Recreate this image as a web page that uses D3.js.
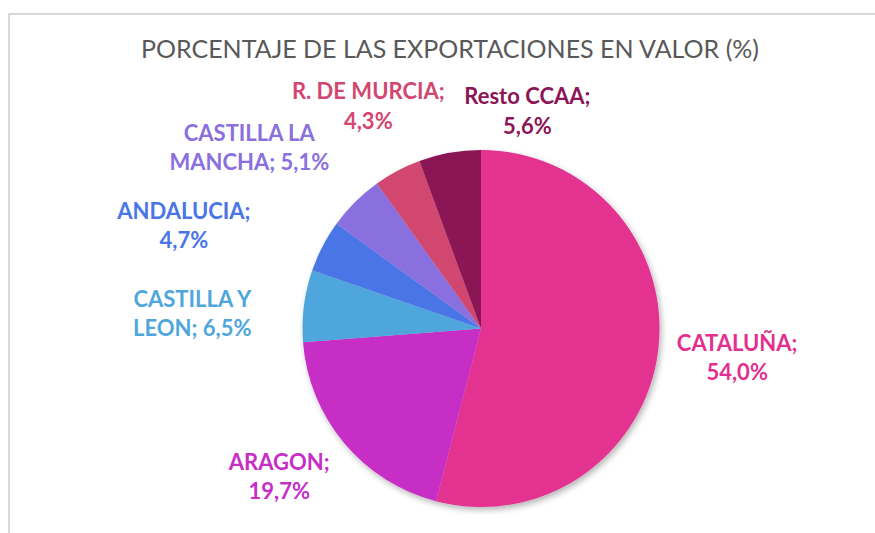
<!DOCTYPE html>
<html>
<head>
<meta charset="utf-8">
<script src="https://cdn.jsdelivr.net/npm/d3@7"></script>
<style>
  body { margin: 0; background: #fff; }
  svg text { font-family: Lato, "Open Sans", sans-serif; }
</style>
</head>
<body>
<div id="chart"></div>
<script>
// data
var regions = ['CATALUÑA', 'ARAGON', 'CASTILLA Y LEON', 'ANDALUCIA', 'CASTILLA LA MANCHA', 'R. DE MURCIA', 'Resto CCAA'];
var shares = [54.0, 19.7, 6.5, 4.7, 5.1, 4.3, 5.6];
// how each data label breaks into two lines
var labelLines = [
  ['CATALUÑA;', '54,0%'],
  ['ARAGON;', '19,7%'],
  ['CASTILLA Y', 'LEON; 6,5%'],
  ['ANDALUCIA;', '4,7%'],
  ['CASTILLA LA', 'MANCHA; 5,1%'],
  ['R. DE MURCIA;', '4,3%'],
  ['Resto CCAA;', '5,6%']
];

var colors = ['#e3308f', '#c62fc6', '#4fa6dc', '#4975e6', '#8a70de', '#d2476f', '#8b1556'];

// label placement (distance from centre, angle shift in degrees)
var labelDist = [258, 251, 289, 314, 293, 248, 221];
var labelShift = [-0.5, 3.4, -4.6, -8.6, -7.4, 0.9, 22.2];

var width = 875;
var height = 533;
var cx = 481;
var cy = 328.5;
var radius = 178.5;

var svg = d3.select('#chart').append('svg')
  .attr('width', width)
  .attr('height', height);

// chart frame (only top and left edges are visible)
svg.append('rect')
  .attr('x', 9)
  .attr('y', 14)
  .attr('width', width + 20)
  .attr('height', height + 20)
  .style('fill', 'none')
  .style('stroke', '#d9d9d9')
  .style('stroke-width', 2);

// soft shadow under the pie
var defs = svg.append('defs');
var filter = defs.append('filter')
  .attr('id', 'shadow')
  .attr('x', '-20%').attr('y', '-20%')
  .attr('width', '140%').attr('height', '140%');
filter.append('feGaussianBlur')
  .attr('in', 'SourceAlpha')
  .attr('stdDeviation', 3);
filter.append('feOffset')
  .attr('dx', 2).attr('dy', 3)
  .attr('result', 'blur');
filter.append('feComponentTransfer')
  .append('feFuncA').attr('type', 'linear').attr('slope', 0.3);
var merge = filter.append('feMerge');
merge.append('feMergeNode');
merge.append('feMergeNode').attr('in', 'SourceGraphic');

svg.append('text')
  .attr('x', 450)
  .attr('y', 58)
  .style('text-anchor', 'middle')
  .style('fill', '#595959')
  .style('font-size', '25px')
  .text('PORCENTAJE DE LAS EXPORTACIONES EN VALOR (%)');

var data = regions.map(function (r, i) {
  return { name: r, value: shares[i], lines: labelLines[i], i: i };
});

var pie = d3.pie()
  .sort(null)
  .value(function (d) { return d.value; });

var arc = d3.arc()
  .innerRadius(0)
  .outerRadius(radius);

var arcs = pie(data);

var g = svg.append('g')
  .attr('transform', 'translate(' + cx + ',' + cy + ')');

g.append('g')
  .attr('filter', 'url(#shadow)')
  .selectAll('path')
  .data(arcs)
  .enter().append('path')
  .attr('d', arc)
  .style('fill', function (d) { return colors[d.data.i]; });

// data labels
var lineHeight = 29.5;
var labels = g.selectAll('.label')
  .data(arcs)
  .enter().append('text')
  .attr('class', 'label')
  .style('text-anchor', 'middle')
  .style('font-weight', 'bold')
  .style('font-size', '22px')
  .style('fill', function (d) { return colors[d.data.i]; })
  .attr('transform', function (d) {
    var i = d.data.i;
    var a = (d.startAngle + d.endAngle) / 2 + labelShift[i] * Math.PI / 180;
    var r = labelDist[i];
    return 'translate(' + (r * Math.sin(a)) + ',' + (-r * Math.cos(a)) + ')';
  });

labels.selectAll('tspan')
  .data(function (d) { return d.data.lines; })
  .enter().append('tspan')
  .attr('x', 0)
  .attr('y', function (d, j) { return (j - 0.5) * lineHeight + 6.5; })
  .text(function (d) { return d; });
</script>
</body>
</html>
